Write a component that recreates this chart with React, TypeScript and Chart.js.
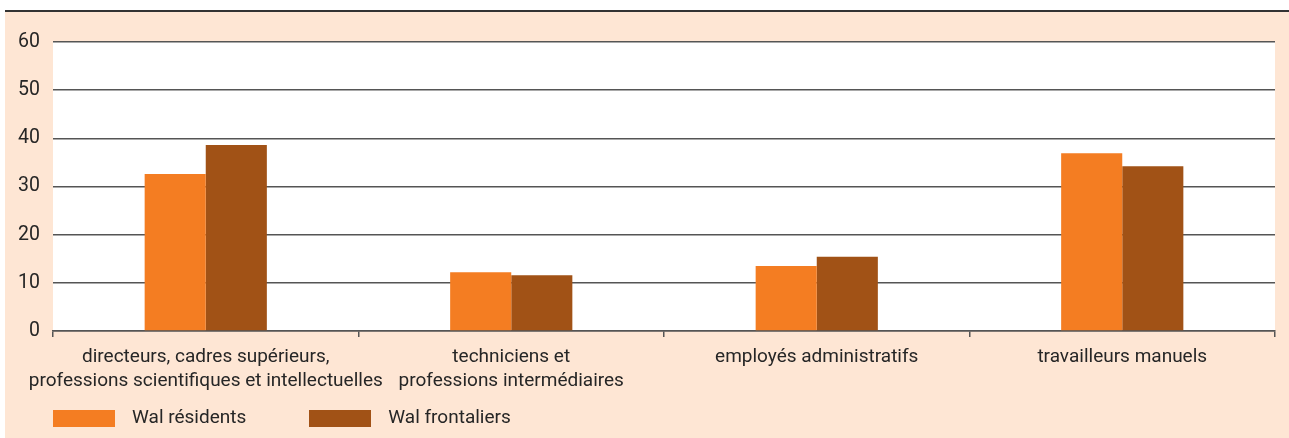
import React, { useEffect, useRef } from 'react';
import { Chart, registerables } from 'chart.js';

Chart.register(...registerables);

const categories: (string | string[])[] = [
  ['directeurs, cadres supérieurs,', 'professions scientifiques et intellectuelles'],
  ['techniciens et', 'professions intermédiaires'],
  'employés administratifs',
  'travailleurs manuels',
];
const seriesNames = ['Wal résidents', 'Wal frontaliers'];
const residents = [32.6, 12.2, 13.5, 36.9];
const frontaliers = [38.6, 11.6, 15.4, 34.2];
const yMin = 0;
const yMax = 60;
const yStep = 10;

const ORANGE = '#F47D22';
const BROWN = '#A15216';
const PEACH = '#FEE6D4';
const TEXT = '#262626';
const GRID = '#555555';
const FONT = 'Roboto, "Liberation Sans", sans-serif';

const SHIFT = 10;
const CANVAS_W = 1289 + SHIFT;
const CANVAS_H = 438;
const LEGEND_PAD = 55.5;

const bgPlugin = {
  id: 'pageBackground',
  beforeDraw(chart: any) {
    const { ctx, chartArea } = chart;
    ctx.save();
    ctx.fillStyle = PEACH;
    ctx.fillRect(5 + SHIFT, 12, chart.width - 5 - SHIFT, chart.height - 12);
    ctx.fillStyle = '#333333';
    ctx.fillRect(5 + SHIFT, 10, chart.width - 5 - SHIFT, 2);
    ctx.fillStyle = '#ffffff';
    ctx.fillRect(
      chartArea.left,
      chartArea.top,
      chartArea.right - chartArea.left,
      chartArea.bottom - chartArea.top
    );
    ctx.restore();
  },
};

function swatch(color: string): HTMLCanvasElement {
  const c = document.createElement('canvas');
  c.width = 62;
  c.height = 17;
  const g = c.getContext('2d')!;
  g.fillStyle = color;
  g.fillRect(0, 0, 62, 17);
  return c;
}

export default function App() {
  const ref = useRef<HTMLCanvasElement | null>(null);

  useEffect(() => {
    if (!ref.current) return;
    const swatches = [swatch(ORANGE), swatch(BROWN)];
    const chart = new Chart(ref.current, {
      type: 'bar',
      data: {
        labels: categories,
        datasets: [
          {
            label: seriesNames[0],
            data: residents,
            backgroundColor: ORANGE,
            borderWidth: 0,
            categoryPercentage: 0.4,
            barPercentage: 1.0,
          },
          {
            label: seriesNames[1],
            data: frontaliers,
            backgroundColor: BROWN,
            borderWidth: 0,
            categoryPercentage: 0.4,
            barPercentage: 1.0,
          },
        ],
      },
      options: {
        responsive: false,
        animation: false,
        devicePixelRatio: 1,
        layout: { padding: { top: 42, right: 14, left: 0, bottom: 0 } },
        plugins: {
          tooltip: { enabled: false },
          title: { display: false },
          legend: {
            display: true,
            position: 'bottom',
            align: 'start',
            labels: {
              usePointStyle: true,
              pointStyleWidth: 77,
              boxHeight: 17,
              padding: LEGEND_PAD,
              color: TEXT,
              font: { family: FONT, size: 19 },
              generateLabels: (ch: any) => {
                const items = Chart.defaults.plugins.legend.labels.generateLabels(ch);
                return items.map((it: any, i: number) => ({
                  ...it,
                  pointStyle: swatches[i % swatches.length],
                  lineWidth: 0,
                }));
              },
            },
          },
        },
        scales: {
          x: {
            afterFit: (scale: any) => {
              scale.height = 22.5;
            },
            grid: {
              offset: true,
              drawOnChartArea: false,
              drawTicks: true,
              tickLength: 6,
              color: GRID,
              lineWidth: 1.5,
            },
            border: { display: true, color: GRID, width: 1.5 },
            ticks: {
              color: TEXT,
              font: { family: FONT, size: 19, lineHeight: 1.26 },
              mirror: true,
              padding: -38,
              maxRotation: 0,
              autoSkip: false,
            },
          },
          y: {
            min: yMin,
            max: yMax,
            afterFit: (scale: any) => {
              scale.width = 53 + SHIFT;
            },
            grid: {
              color: GRID,
              lineWidth: 1.5,
              drawTicks: false,
            },
            border: { display: false },
            ticks: {
              stepSize: yStep,
              color: TEXT,
              font: { family: FONT, size: 19.5 },
              padding: 13,
            },
          },
        },
      },
      plugins: [bgPlugin],
    });
    return () => chart.destroy();
  }, []);

  return (
    <div style={{ position: 'absolute', left: -SHIFT, top: 0, width: CANVAS_W, height: CANVAS_H }}>
      <canvas
        ref={ref}
        width={CANVAS_W}
        height={CANVAS_H}
        style={{ display: 'block', width: CANVAS_W, height: CANVAS_H }}
      />
    </div>
  );
}
